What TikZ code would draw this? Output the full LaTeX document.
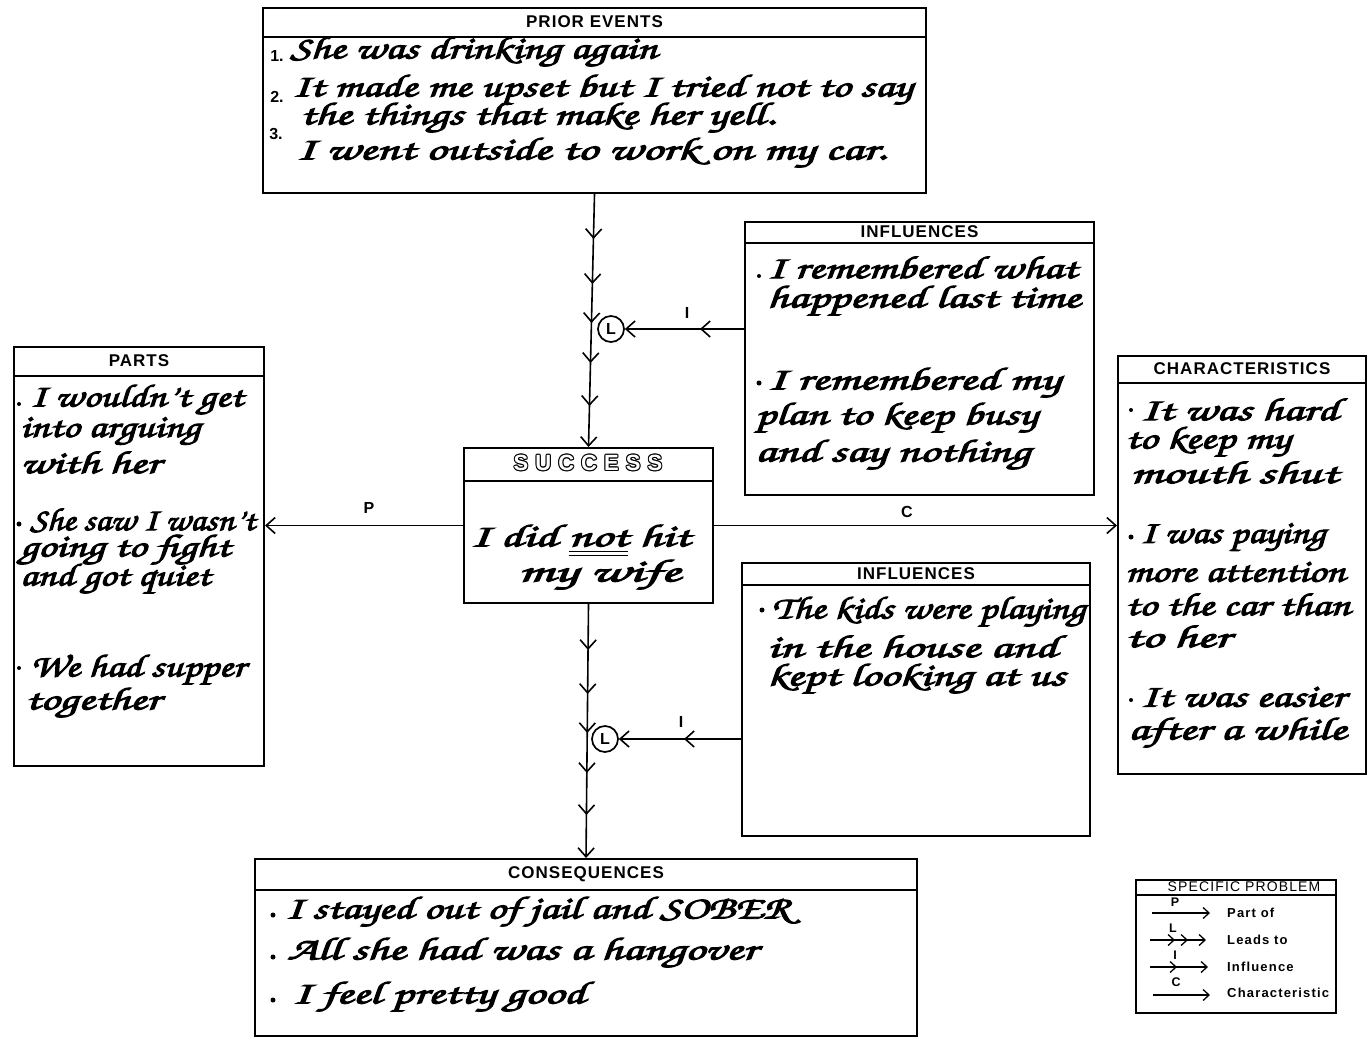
\documentclass[tikz,border=0pt]{standalone}
\usepackage[T1]{fontenc}
\usepackage{fontspec}
\usepackage{graphicx}
\usetikzlibrary{arrows.meta,decorations.markings,calc}

\newfontfamily\headfont{Liberation Sans}
% script face for the written entries
\newcommand\handfont{\fontencoding{T1}\fontfamily{pzc}\fontseries{mb}\fontshape{it}\fontsize{32}{36}\selectfont}
% one written line, stretched to a given width (pt), filled and outlined for a heavier pen
\newcommand\hw[2]{\resizebox{#1pt}{\height}{\special{pdf:literal direct 2 Tr 0.9 w}\handfont #2\special{pdf:literal direct 0 Tr}}}
% double underline
\newcommand\twoline[1]{\setbox0\hbox{#1}%
  \rlap{\rule[-6pt]{\wd0}{1.6pt}}\rlap{\rule[-10pt]{\wd0}{1.6pt}}\box0\relax}
% hollow lettering
\newcommand\hollow[1]{\leavevmode
  \rlap{\hspace*{1pt}#1}\rlap{\hspace*{-1pt}#1}%
  \rlap{\raisebox{1pt}{#1}}\rlap{\raisebox{-1pt}{#1}}%
  \rlap{\hspace*{0.7pt}\raisebox{0.7pt}{#1}}\rlap{\hspace*{-0.7pt}\raisebox{0.7pt}{#1}}%
  \rlap{\hspace*{0.7pt}\raisebox{-0.7pt}{#1}}\rlap{\hspace*{-0.7pt}\raisebox{-0.7pt}{#1}}%
  \textcolor{white}{#1}}

\tikzset{
  barb/.tip={Straight Barb[length=9pt,width=16pt]},
  smallbarb/.tip={Straight Barb[length=6pt,width=11pt]},
  box/.style={draw, line width=2pt, rectangle, inner sep=0pt, anchor=north west},
  rule/.style={line width=1.6pt},
  head/.style={font=\headfont\bfseries\fontsize{17}{17}\selectfont\addfontfeature{LetterSpace=6}, inner sep=0pt},
  hand/.style={anchor=west, inner sep=0pt},
  num/.style={font=\headfont\bfseries\fontsize{16}{16}\selectfont, inner sep=0pt},
  tag/.style={font=\headfont\bfseries\fontsize{16}{16}\selectfont, inner sep=0pt},
  keytag/.style={font=\headfont\bfseries\fontsize{12.5}{12.5}\selectfont, inner sep=0pt},
  link/.style={line width=1.6pt, -barb},
  lcirc/.style={circle, draw, line width=1.7pt, minimum size=26pt, inner sep=0pt,
    font=\headfont\bfseries\fontsize{16}{16}\selectfont},
  dot/.style={fill=black},
  legarrow/.style={line width=1.3pt, -smallbarb},
  legtext/.style={anchor=west, inner sep=0pt,
    font=\headfont\bfseries\fontsize{13}{13}\selectfont\addfontfeature{LetterSpace=9}},
}

% \panel{name}{x}{y}{width}{height}{header depth}{title}
\newcommand\panel[7]{%
  \node[box, minimum width=#4pt, minimum height=#5pt] (#1) at (#2,#3) {};
  \draw[rule] ([yshift=-#6pt]#1.north west) -- ([yshift=-#6pt]#1.north east);
  \node[head] (#1-title) at ($(#1.north)!0.5!([yshift=-#6pt]#1.north)$) {#7};
}

\begin{document}
\begin{tikzpicture}[x=1pt,y=-1pt]
\useasboundingbox[fill=white] (0,0) rectangle (1372,1042);

% ---------- panels ----------
\panel{prior}{262}{7}{663}{185}{30}{PRIOR\ EVENTS}
\panel{inflA}{744}{221}{349}{273}{22}{INFLUENCES}
\panel{parts}{13}{346}{250}{419}{30}{PARTS}
\panel{chars}{1117}{355}{248}{418}{28}{CHARACTERISTICS}
\panel{inflB}{741}{562}{348}{273}{23}{INFLUENCES}
\panel{conseq}{254}{858}{662}{177}{32}{CONSEQUENCES}

% central box with hollow title
\node[box, minimum width=249pt, minimum height=155pt] (success) at (463,447) {};
\draw[rule] ([yshift=-34pt]success.north west) -- ([yshift=-34pt]success.north east);
\node[inner sep=0pt, font=\headfont\bfseries\fontsize{22}{22}\selectfont\addfontfeature{LetterSpace=32}]
  (success-title) at (588,463) {\hollow{SUCCESS}};

% ---------- prior events ----------
\node[num] (n1) at (277,56) {1.};
\node[num] (n2) at (277,97) {2.};
\node[num] (n3) at (276,134) {3.};
\node[hand] (p1) at (290,52)  {\hw{367}{She was drinking again}};
\node[hand] (p2) at (292,90)  {\hw{620}{It made me upset but I tried not to say}};
\node[hand] (p3) at (300,118) {\hw{475}{the things that make her yell.}};
\node[hand] (p4) at (296,153) {\hw{590}{I went outside to work on my car.}};

% ---------- influences (upper) ----------
\fill[dot] (759,276) circle (2pt);
\node[hand] (a1) at (767,267) {\hw{310}{I remembered what}};
\node[hand] (a2) at (767,301) {\hw{313}{happened last time}};
\fill[dot] (759,383) circle (2.5pt);
\node[hand] (a3) at (767,383) {\hw{293}{I remembered my}};
\node[hand] (a4) at (755,418) {\hw{282}{plan to keep busy}};
\node[hand] (a5) at (755,455) {\hw{275}{and say nothing}};

% ---------- parts ----------
\fill[dot] (19,404) circle (2pt);
\node[hand] (b1) at (30,400) {\hw{213}{I wouldn't get}};
\node[hand] (b2) at (20,432) {\hw{180}{into arguing}};
\node[hand] (b3) at (20,462) {\hw{140}{with her}};
\fill[dot] (19,524) circle (2.5pt);
\node[hand] (b4) at (30,520) {\hw{225}{She saw I wasn't}};
\node[hand] (b5) at (20,550) {\hw{210}{going to fight}};
\node[hand] (b6) at (20,579) {\hw{190}{and got quiet}};
\fill[dot] (19,668) circle (2pt);
\node[hand] (b7) at (30,670) {\hw{215}{We had supper}};
\node[hand] (b8) at (25,703) {\hw{135}{together}};

% ---------- success ----------
\node[hand] (s1) at (470,540) {\hw{220}{I did \twoline{not} hit}};
\node[hand] (s2) at (518,575) {\hw{162}{my wife}};

% ---------- characteristics ----------
\fill[dot] (1131,410) circle (2pt);
\node[hand] (c1) at (1140,409) {\hw{198}{It was hard}};
\node[hand] (c2) at (1125,442) {\hw{165}{to keep my}};
\node[hand] (c3) at (1130,472) {\hw{208}{mouth shut}};
\fill[dot] (1131,537) circle (2.5pt);
\node[hand] (c4) at (1140,538) {\hw{185}{I was paying}};
\node[hand] (c5) at (1125,572) {\hw{220}{more attention}};
\node[hand] (c6) at (1125,604) {\hw{225}{to the car than}};
\node[hand] (c7) at (1125,636) {\hw{105}{to her}};
\fill[dot] (1131,700) circle (2pt);
\node[hand] (c8) at (1140,697) {\hw{205}{It was easier}};
\node[hand] (c9) at (1128,733) {\hw{218}{after a while}};

% ---------- influences (lower) ----------
\fill[dot] (762,610) circle (2.5pt);
\node[hand] (d1) at (772,612) {\hw{313}{The kids were playing}};
\node[hand] (d2) at (767,646) {\hw{290}{in the house and}};
\node[hand] (d3) at (767,679) {\hw{298}{kept looking at us}};

% ---------- consequences ----------
\fill[dot] (273,915) circle (2.5pt);
\node[hand] (e1) at (285,912) {\hw{505}{I stayed out of jail and SOBER}};
\fill[dot] (273,957) circle (2.5pt);
\node[hand] (e2) at (287,953) {\hw{470}{All she had was a hangover}};
\fill[dot] (273,1000) circle (2.5pt);
\node[hand] (e3) at (292,997) {\hw{293}{I feel pretty good}};

% ---------- leads-to chains ----------
\node[lcirc] (L1) at (611,329) {L};
\node[lcirc] (L2) at (605,739) {L};

\draw[link, postaction=decorate, decoration={markings,
    mark=at position 45pt with {\arrow{barb}},
    mark=at position 90pt with {\arrow{barb}},
    mark=at position 129pt with {\arrow{barb}},
    mark=at position 169pt with {\arrow{barb}},
    mark=at position 212pt with {\arrow{barb}}}]
  (prior.south) -- (success.north);

\draw[link, postaction=decorate, decoration={markings,
    mark=at position 46pt with {\arrow{barb}},
    mark=at position 90pt with {\arrow{barb}},
    mark=at position 129pt with {\arrow{barb}},
    mark=at position 169pt with {\arrow{barb}},
    mark=at position 211pt with {\arrow{barb}}}]
  (success.south) -- (conseq.north);

% ---------- influence arrows ----------
\draw[link, postaction=decorate, decoration={markings,
    mark=at position 44pt with {\arrow{barb}}}]
  (L1 -| inflA.west) -- (L1);
\node[tag] (iA) at (687,313) {I};

\draw[link, postaction=decorate, decoration={markings,
    mark=at position 57pt with {\arrow{barb}}}]
  (L2 -| inflB.west) -- (L2);
\node[tag] (iB) at (681,722) {I};

% ---------- part-of / characteristic ----------
\draw[link] (success.west) -- (success.west -| parts.east);
\node[tag] (pP) at (369,508) {P};
\draw[link] (success.east) -- (success.east -| chars.west);
\node[tag] (pC) at (907,512) {C};

% ---------- key ----------
\node[box, line width=1.5pt, minimum width=200pt, minimum height=133pt] (key) at (1135,879) {};
\draw[line width=1.3pt] ([yshift=-16pt]key.north west) -- ([yshift=-16pt]key.north east);
\node[inner sep=0pt, font=\headfont\fontsize{14}{14}\selectfont\addfontfeature{LetterSpace=8}]
  (key-title) at (1244,887) {SPECIFIC\ PROBLEM};

\coordinate (k1a) at (1152,913); \coordinate (k1b) at (1210,913);
\coordinate (k2a) at (1150,940); \coordinate (k2b) at (1206,940);
\coordinate (k3a) at (1150,967); \coordinate (k3b) at (1208,967);
\coordinate (k4a) at (1153,995); \coordinate (k4b) at (1210,995);

\draw[legarrow] (k1a) -- (k1b);
\node[keytag] (kP) at (1175,902) {P};
\node[legtext] (kt1) at (1227,913) {Part of};

\draw[legarrow, postaction=decorate, decoration={markings,
    mark=at position 25pt with {\arrow{smallbarb}},
    mark=at position 38pt with {\arrow{smallbarb}}}] (k2a) -- (k2b);
\node[keytag] (kL) at (1173,928) {L};
\node[legtext] (kt2) at (1227,940) {Leads to};

\draw[legarrow, postaction=decorate, decoration={markings,
    mark=at position 27pt with {\arrow{smallbarb}}}] (k3a) -- (k3b);
\node[keytag] (kI) at (1175,955) {I};
\node[legtext] (kt3) at (1227,967) {Influence};

\draw[legarrow] (k4a) -- (k4b);
\node[keytag] (kC) at (1176,982) {C};
\node[legtext] (kt4) at (1227,993) {Characteristic};

\end{tikzpicture}
\end{document}
